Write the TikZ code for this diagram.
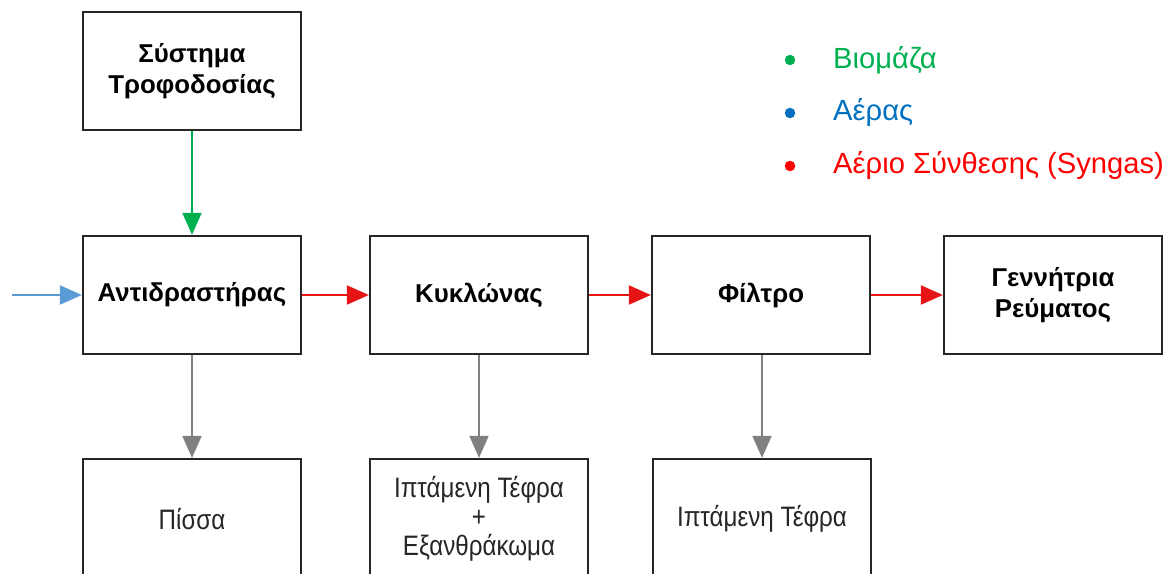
\documentclass[tikz,border=0pt]{standalone}
\usepackage{fontspec}
\setmainfont{Liberation Sans}
\newfontfamily\narrowfont[FakeStretch=0.86]{Liberation Sans}
\usetikzlibrary{arrows.meta}
\definecolor{biogreen}{RGB}{0,176,80}
\definecolor{airblue}{RGB}{0,112,192}
\definecolor{arrowblue}{RGB}{91,155,213}
\definecolor{gasred}{RGB}{255,0,0}
\definecolor{redarrow}{RGB}{230,20,20}
\definecolor{ashgray}{RGB}{128,128,128}
\begin{document}
\begin{tikzpicture}[x=0.02cm, y=-0.02cm,
  block/.style = {draw=black!85, line width=1.3pt, minimum width=4.36cm, minimum height=2.36cm,
                  align=center, font=\fontsize{14.7}{17.6}\selectfont\bfseries},
  waste/.style = {draw=black!85, line width=1.3pt, minimum width=4.36cm, minimum height=2.4cm,
                  align=center, text=black!85, font=\narrowfont\fontsize{16}{16.4}\selectfont},
  flow/.style = {line width=1.1pt, -{Triangle[length=0.44cm, width=0.38cm]}},
  legend/.style = {anchor=west, font=\fontsize{16.6}{19}\selectfont},
  ]
  \useasboundingbox (0,0) rectangle (1172,574);

  % main line
  \node[block] (feed) at (192,71) {Σύστημα\\Τροφοδοσίας};
  \node[block] (reactor) at (192,295) {Αντιδραστήρας};
  \node[block] (cyclone) at (479,295) {Κυκλώνας};
  \node[block] (filter) at (761,295) {Φίλτρο};
  \node[block] (gen) at (1053,295) {Γεννήτρια\\Ρεύματος};

  % by-products
  \node[waste] (tar) at (192,519) {Πίσσα};
  \node[waste] (ash1) at (479,519) {Ιπτάμενη Τέφρα\\+\\Εξανθράκωμα};
  \node[waste] (ash2) at (762,519) {Ιπτάμενη Τέφρα};

  \coordinate (air) at (12,295);

  \draw[flow, biogreen] (feed) -- (reactor);
  \draw[flow, arrowblue] (air) -- (reactor);
  \draw[flow, redarrow] (reactor) -- (cyclone);
  \draw[flow, redarrow] (cyclone) -- (filter);
  \draw[flow, redarrow] (filter) -- (gen);
  \draw[flow, ashgray] (reactor) -- (tar);
  \draw[flow, ashgray] (cyclone) -- (ash1);
  \draw[flow, ashgray] (filter.south -| ash2) -- (ash2);

  % legend
  \fill[biogreen] (790,60) circle (0.105cm);
  \fill[airblue] (790,113) circle (0.105cm);
  \fill[gasred] (790,166) circle (0.105cm);
  \node[legend, text=biogreen] (lg1) at (827,60) {Βιομάζα};
  \node[legend, text=airblue] (lg2) at (827,113) {Αέρας};
  \node[legend, text=gasred] (lg3) at (827,166) {Αέριο Σύνθεσης (Syngas)};
\end{tikzpicture}
\end{document}
